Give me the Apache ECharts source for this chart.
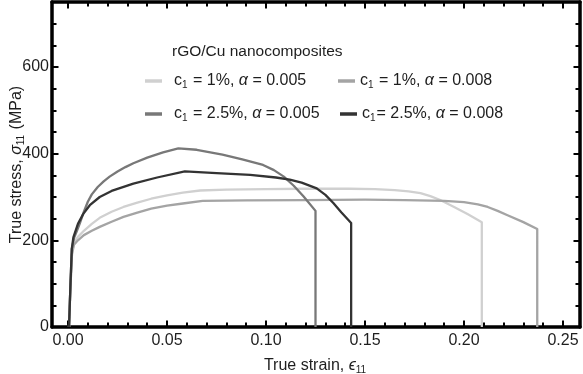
<!DOCTYPE html>
<html>
<head>
<meta charset="utf-8">
<script src="https://cdn.jsdelivr.net/npm/echarts@6/dist/echarts.min.js"></script>
<style>html,body{margin:0;padding:0;background:#fff}#c{width:583px;height:374px}</style>
</head>
<body>
<div id="c"></div>
<script>
// ---- data: [true strain, true stress (MPa)] ----
const seriesNames = ['c1=1%,a=0.005', 'c1=1%,a=0.008', 'c1=2.5%,a=0.005', 'c1=2.5%,a=0.008'];
const curveA = [[0.0005,0],[0.0012,90],[0.0020,170],[0.0030,195],[0.005,208],[0.008,222],[0.012,238],[0.016,252],[0.022,266],[0.028,277],[0.035,287],[0.042,296],[0.05,304],[0.058,310],[0.0667,315],[0.08,317],[0.10,318],[0.12,319],[0.142,319],[0.155,318],[0.165,316],[0.172,313],[0.178,309],[0.183,302],[0.188,293],[0.195,277],[0.202,260],[0.209,242],[0.209,0]];
const curveB = [[0.0005,0],[0.0012,90],[0.002,168],[0.003,190],[0.005,200],[0.008,212],[0.012,222],[0.016,231],[0.022,243],[0.028,254],[0.035,264],[0.042,273],[0.05,280],[0.058,285],[0.068,291],[0.09,292],[0.12,293],[0.15,294],[0.17,293],[0.19,291],[0.2,288],[0.207,283],[0.212,277],[0.217,268],[0.222,258],[0.23,242],[0.237,226],[0.237,0]];
const curveC = [[0.0005,0],[0.0012,95],[0.0019,180],[0.003,205],[0.0045,222],[0.006,240],[0.008,266],[0.010,289],[0.012,306],[0.015,323],[0.018,336],[0.021,347],[0.025,359],[0.029,369],[0.033,378],[0.04,391],[0.048,403],[0.0557,412],[0.065,409],[0.078,398],[0.088,387],[0.0985,374],[0.104,362],[0.109,347],[0.114,326],[0.119,301],[0.125,268],[0.125,0]];
const curveD = [[0.0005,0],[0.0012,95],[0.0019,180],[0.0027,207],[0.005,238],[0.0077,261],[0.011,281],[0.016,300],[0.022,314],[0.033,331],[0.045,345],[0.059,359],[0.075,355],[0.092,351],[0.105,345],[0.112,340],[0.118,333],[0.1256,320],[0.13,305],[0.134,286],[0.138,265],[0.143,240],[0.143,0]];
const xTickMin = 0, xTickMax = 0.25, xTickStep = 0.05;   // tick labels 0.00 … 0.25
const yTickMin = 0, yTickMax = 800, yTickStep = 200;     // tick labels 0 … 600
const X_MIN = -0.0081, X_MAX = 0.2586, Y_MIN = 0, Y_MAX = 750;

const colors = ['#d0d0d0', '#a4a4a4', '#787878', '#333333'];
const legendText = {
  'c1=1%,a=0.005': '{t|c}{s|1}{t| = 1%, }{i|α}{t| = 0.005}',
  'c1=1%,a=0.008': '{t|c}{s|1}{t| = 1%, }{i|α}{t| = 0.008}',
  'c1=2.5%,a=0.005': '{t|c}{s|1}{t| = 2.5%, }{i|α}{t| = 0.005}',
  'c1=2.5%,a=0.008': '{t|c}{s|1}{t|= 2.5%, }{i|α}{t| = 0.008}'
};
const FONT = 'Liberation Sans, Arial, Helvetica, sans-serif';
const TXT = '#1e1e1e';
function mkRich(fs) {
  return {
    t: {fontSize: fs, color: TXT, fontFamily: FONT},
    s: {fontSize: 10, color: TXT, fontFamily: FONT, padding: [8, 1, 0, 0]},
    i: {fontSize: fs, color: TXT, fontFamily: FONT, fontStyle: 'italic'}
  };
}

const chart = echarts.init(document.getElementById('c'), null, {renderer: 'canvas'});

function frameLine() { return {show: true, onZero: false, lineStyle: {color: '#000', width: 3.5}}; }
function hiddenLine() { return {show: false, onZero: false}; }
function noTick() { return {show: false}; }
function tickStyle(len) { return {show: true, inside: true, length: len, lineStyle: {color: '#000', width: 2}}; }
function minorStyle(n) { return {show: true, splitNumber: n, length: 4.5, lineStyle: {color: '#000', width: 2}}; }

const datasets = [curveA, curveB, curveC, curveD];
const series = datasets.map((d, i) => ({
  name: seriesNames[i], type: 'line', data: d, showSymbol: false, symbol: 'none',
  xAxisIndex: 0, yAxisIndex: 0, smooth: false,
  lineStyle: {color: colors[i], width: 2.3, join: 'round'}, itemStyle: {color: colors[i]},
  z: 3, animation: false
}));

const legendPos = [[145, 73, 7], [338, 73, 0], [145, 106, 7], [340, 106, 0]];
const legends = seriesNames.map((n, i) => ({
  data: [n], left: legendPos[i][0], top: legendPos[i][1], padding: 0,
  icon: 'rect', itemWidth: 17, itemHeight: 3.5, itemGap: 0,
  formatter: name => legendText[name],
  textStyle: {rich: mkRich(16), padding: [0, 0, 0, legendPos[i][2]]},
  selectedMode: false
}));

const gridBase = {containLabel: false, outerBoundsMode: 'none', show: false};

chart.setOption({
  animation: false,
  backgroundColor: '#fff',
  grid: [
    Object.assign({left: 52, right: 3, top: 2, bottom: 47}, gridBase),      // data + frame
    Object.assign({left: 68, right: 20, top: 2, bottom: 47}, gridBase),     // x ticks
    Object.assign({left: 52, right: 3, top: -19.7, bottom: 47}, gridBase)   // y ticks
  ],
  title: {text: 'rGO/Cu nanocomposites', left: 167, top: 39, textStyle: {fontSize: 15.5, fontWeight: 'normal', color: TXT, fontFamily: FONT}},
  legend: legends,
  xAxis: [
    {gridIndex: 0, type: 'value', position: 'bottom', min: X_MIN, max: X_MAX, axisLine: frameLine(), axisTick: noTick(), axisLabel: {show: false}, splitLine: {show: false}},
    {gridIndex: 0, type: 'value', position: 'top', min: X_MIN, max: X_MAX, axisLine: frameLine(), axisTick: noTick(), axisLabel: {show: false}, splitLine: {show: false}},
    {gridIndex: 1, type: 'value', position: 'bottom', min: xTickMin, max: xTickMax, interval: xTickStep,
      axisLine: hiddenLine(), axisTick: tickStyle(6.5), minorTick: minorStyle(5),
      axisLabel: {show: true, formatter: v => v.toFixed(2), fontSize: 16, color: TXT, fontFamily: FONT, margin: 6},
      splitLine: {show: false},
      name: 'True strain, {i|ϵ}{s|11}', nameLocation: 'middle', nameGap: 30,
      nameTextStyle: {rich: mkRich(16), fontSize: 16, color: TXT, fontFamily: FONT}},
    {gridIndex: 1, type: 'value', position: 'top', min: xTickMin, max: xTickMax, interval: xTickStep,
      axisLine: hiddenLine(), axisTick: tickStyle(6.5), minorTick: minorStyle(5),
      axisLabel: {show: false}, splitLine: {show: false}},
    {gridIndex: 2, type: 'value', show: false, min: X_MIN, max: X_MAX, axisLine: hiddenLine()}
  ],
  yAxis: [
    {gridIndex: 0, type: 'value', position: 'left', min: Y_MIN, max: Y_MAX, axisLine: frameLine(), axisTick: noTick(), axisLabel: {show: false}, splitLine: {show: false},
      name: 'True stress, {i|σ}{s|11} (MPa)', nameLocation: 'middle', nameGap: 26,
      nameTextStyle: {rich: mkRich(16), fontSize: 16, color: TXT, fontFamily: FONT}},
    {gridIndex: 0, type: 'value', position: 'right', min: Y_MIN, max: Y_MAX, axisLine: frameLine(), axisTick: noTick(), axisLabel: {show: false}, splitLine: {show: false}},
    {gridIndex: 1, type: 'value', show: false, min: Y_MIN, max: Y_MAX, axisLine: hiddenLine()},
    {gridIndex: 2, type: 'value', position: 'left', min: yTickMin, max: yTickMax, interval: yTickStep,
      axisLine: hiddenLine(), axisTick: tickStyle(6.5), minorTick: minorStyle(4),
      axisLabel: {show: true, showMaxLabel: false, fontSize: 16, color: TXT, fontFamily: FONT, margin: 3},
      splitLine: {show: false}},
    {gridIndex: 2, type: 'value', position: 'right', min: yTickMin, max: yTickMax, interval: yTickStep,
      axisLine: hiddenLine(), axisTick: tickStyle(6.5), minorTick: minorStyle(4),
      axisLabel: {show: false}, splitLine: {show: false}}
  ],
  series: series
});
</script>
</body>
</html>
